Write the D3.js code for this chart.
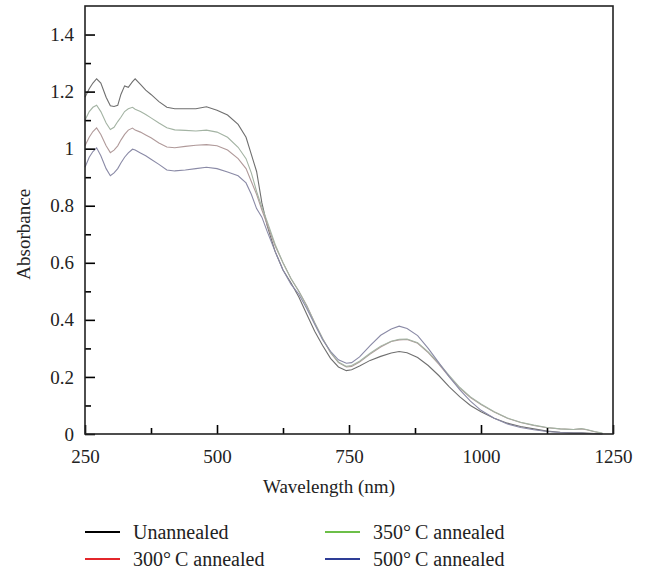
<!DOCTYPE html>
<html>
<head>
<meta charset="utf-8">
<script src="https://cdn.jsdelivr.net/npm/d3@7"></script>
<style>
  body { margin: 0; background: #fff; }
  .axis path { display: none; }
  .axis line { stroke: #000; stroke-width: 1.6; }
  .axis text { fill: #222; }
</style>
</head>
<body>
<div id="chart"></div>
<script>
// wavelength grid (nm)
const wavelengths = [250, 258, 265, 272, 280, 290, 298, 305, 312, 318, 325, 332, 340, 345, 355, 365, 375, 390, 405, 420,
  440, 460, 480, 500, 520, 540, 555, 565, 575, 585, 595, 610, 625, 640, 655, 670, 685, 700, 715, 730,
  745, 755, 770, 790, 810, 830, 845, 860, 880, 900, 920, 940, 960, 980, 1000, 1025, 1050, 1075, 1100, 1125,
  1150, 1175, 1190, 1200, 1215, 1230];

const unannealed = [1.18, 1.21, 1.23, 1.245, 1.23, 1.18, 1.15, 1.148, 1.152, 1.19, 1.22, 1.215, 1.235, 1.245, 1.225, 1.205, 1.19, 1.165, 1.145, 1.14,
  1.14, 1.14, 1.147, 1.135, 1.118, 1.085, 1.04, 0.98, 0.92, 0.81, 0.73, 0.64, 0.575, 0.53, 0.48, 0.42, 0.36, 0.31, 0.265, 0.235,
  0.222, 0.225, 0.238, 0.258, 0.272, 0.284, 0.289, 0.285, 0.268, 0.24, 0.205, 0.165, 0.13, 0.1, 0.078, 0.055, 0.038, 0.026, 0.018, 0.01,
  0.006, 0.004, 0.004, 0.003, 0.002, 0.001];

const annealed300 = [1.01, 1.04, 1.06, 1.073, 1.05, 1.01, 0.986, 0.995, 1.01, 1.03, 1.05, 1.065, 1.072, 1.065, 1.058, 1.048, 1.038, 1.02, 1.006, 1.003,
  1.008, 1.012, 1.014, 1.01, 0.995, 0.965, 0.93, 0.885, 0.84, 0.785, 0.735, 0.66, 0.6, 0.545, 0.5, 0.45, 0.39, 0.335, 0.285, 0.25,
  0.235, 0.237, 0.252, 0.28, 0.305, 0.324, 0.33, 0.331, 0.318, 0.285, 0.245, 0.2, 0.16, 0.128, 0.103, 0.077, 0.055, 0.04, 0.03, 0.022,
  0.018, 0.016, 0.018, 0.015, 0.008, 0.002];

const annealed350 = [1.10, 1.13, 1.145, 1.152, 1.13, 1.09, 1.067, 1.075, 1.095, 1.11, 1.13, 1.14, 1.145, 1.138, 1.13, 1.12, 1.108, 1.09, 1.073, 1.066,
  1.064, 1.062, 1.065, 1.058, 1.04, 1.005, 0.965, 0.915, 0.85, 0.795, 0.745, 0.665, 0.6, 0.545, 0.5, 0.448, 0.39, 0.335, 0.287, 0.252,
  0.237, 0.24, 0.255, 0.283, 0.308, 0.325, 0.332, 0.333, 0.32, 0.288, 0.248, 0.205, 0.163, 0.13, 0.105, 0.078, 0.056, 0.041, 0.031, 0.023,
  0.018, 0.016, 0.019, 0.016, 0.009, 0.003];

const annealed500 = [0.935, 0.97, 0.99, 1.003, 0.975, 0.93, 0.905, 0.915, 0.93, 0.95, 0.97, 0.985, 0.998, 0.995, 0.985, 0.975, 0.963, 0.945, 0.925, 0.922,
  0.925, 0.93, 0.935, 0.93, 0.918, 0.905, 0.88, 0.84, 0.79, 0.76, 0.71, 0.64, 0.575, 0.525, 0.49, 0.44, 0.385, 0.33, 0.29, 0.26,
  0.248, 0.25, 0.27, 0.31, 0.346, 0.368, 0.378, 0.37, 0.345, 0.3, 0.25, 0.2, 0.155, 0.115, 0.083, 0.055, 0.035, 0.023, 0.015, 0.009,
  0.005, 0.003, 0.003, 0.002, 0.001, 0.0];

const seriesNames = ['Unannealed', '300\u00b0\u2009C annealed', '350\u00b0\u2009C annealed', '500\u00b0\u2009C annealed'];
const seriesValues = [unannealed, annealed300, annealed350, annealed500];
// legend swatch colours, and the faded tones the traces are printed in
const legendColors = ['#000000', '#e3262b', '#6cbf48', '#2e3d96'];
const traceColors = ['#6f6f6f', '#b09a9a', '#a3b3a3', '#8a8aa6'];

const xTicks = [250, 500, 750, 1000, 1250];
const xMinor = [375, 625, 875, 1125];
const yTicks = [0, 0.2, 0.4, 0.6, 0.8, 1, 1.2, 1.4];
const yMinor = [0.1, 0.3, 0.5, 0.7, 0.9, 1.1, 1.3];

const FONT = "'Liberation Serif', 'DejaVu Serif', serif";

const W = 650, H = 571;
const margin = {top: 6, right: 37, bottom: 137, left: 85};
const width = W - margin.left - margin.right,
  height = H - margin.top - margin.bottom;

const x = d3.scaleLinear().domain([250, 1250]).range([0, width]);
const y = d3.scaleLinear().domain([0, 1.5]).range([height, 0]);

const svg = d3.select('#chart').append('svg')
  .attr('width', W)
  .attr('height', H)
  .style('display', 'block');

const g = svg.append('g')
  .attr('transform', `translate(${margin.left},${margin.top})`);

// traces
const line = d3.line()
  .x(d => x(d[0]))
  .y(d => y(d[1]));

g.append('g').attr('class', 'traces')
  .selectAll('path')
  .data(seriesValues)
  .join('path')
    .attr('d', vals => line(wavelengths.map((w, i) => [w, vals[i]])))
    .attr('fill', 'none')
    .attr('stroke', (d, i) => traceColors[i])
    .attr('stroke-width', 1.1);

// axes, ticks pointing inwards
function serif(s) {
  s.attr('font-family', FONT).attr('font-size', 19);
  s.selectAll('text').attr('font-family', FONT).attr('font-size', 19);
}

g.append('g').attr('class', 'x axis')
  .attr('transform', `translate(0,${height})`)
  .call(d3.axisBottom(x).tickValues(xTicks).tickSize(-9).tickPadding(16).tickFormat(d3.format('d')))
  .call(serif);

g.append('g').attr('class', 'x axis minor')
  .attr('transform', `translate(0,${height})`)
  .call(d3.axisBottom(x).tickValues(xMinor).tickSize(-6).tickFormat(''));

g.append('g').attr('class', 'y axis')
  .call(d3.axisLeft(y).tickValues(yTicks).tickSize(-10).tickPadding(11).tickFormat(d3.format('~g')))
  .call(serif);

g.append('g').attr('class', 'y axis minor')
  .call(d3.axisLeft(y).tickValues(yMinor).tickSize(-6).tickFormat(''));

// frame
g.append('rect')
  .attr('width', width)
  .attr('height', height)
  .attr('fill', 'none')
  .attr('stroke', '#222')
  .attr('stroke-width', 1.6);

// axis titles
svg.append('text')
  .attr('x', margin.left + x(750) - 20)
  .attr('y', 493)
  .attr('text-anchor', 'middle')
  .attr('font-family', FONT)
  .attr('font-size', 19)
  .attr('fill', '#222')
  .text('Wavelength (nm)');

svg.append('text')
  .attr('transform', `translate(30,${margin.top + y(0.7)}) rotate(-90)`)
  .attr('text-anchor', 'middle')
  .attr('font-family', FONT)
  .attr('font-size', 19)
  .attr('fill', '#222')
  .text('Absorbance');

// legend, two columns
const legendPos = [[85, 532], [85, 559], [325, 532], [325, 559]];
const legend = svg.append('g').attr('class', 'legend')
  .selectAll('g')
  .data(seriesNames)
  .join('g')
    .attr('transform', (d, i) => `translate(${legendPos[i][0]},${legendPos[i][1]})`);

legend.append('line')
  .attr('x1', 0).attr('x2', 35)
  .attr('stroke', (d, i) => legendColors[i])
  .attr('stroke-width', 2);

legend.append('text')
  .attr('x', 48)
  .attr('y', 7)
  .attr('font-family', FONT)
  .attr('font-size', 20)
  .attr('fill', '#222')
  .text(d => d);
</script>
</body>
</html>
